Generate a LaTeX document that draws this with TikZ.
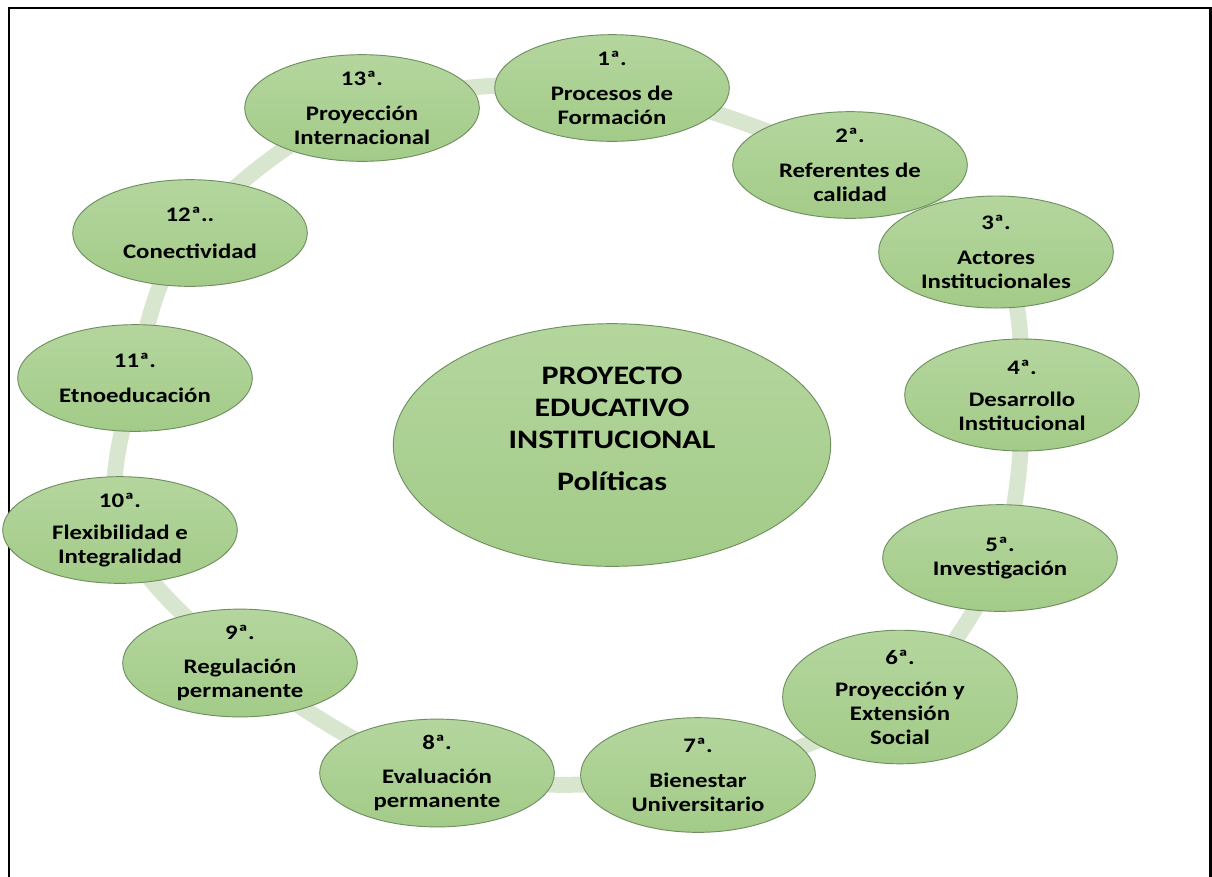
\documentclass[tikz,border=0pt]{standalone}
\usepackage{fontspec}
\setmainfont{Carlito}[FakeStretch=1.2]
\usetikzlibrary{shapes.geometric}
\pgfdeclarelayer{bg}
\pgfsetlayers{bg,main}
\definecolor{gtop}{HTML}{B4D69E}
\definecolor{gbot}{HTML}{A3CB88}
\definecolor{gedge}{HTML}{6F8F60}
\definecolor{ringc}{HTML}{D8E6CF}
\begin{document}
\begin{tikzpicture}[x=0.75pt,y=-0.75pt,
  pol/.style={ellipse, draw=gedge, line width=0.7pt, top color=gtop, bottom color=gbot,
    minimum width=176pt, minimum height=80pt, inner sep=0pt, align=center,
    font=\bfseries\fontsize{15.5}{18}\selectfont},
  big/.style={pol, minimum width=328pt, minimum height=182pt},
  bigtext/.style={inner sep=0pt, align=center, font=\bfseries\fontsize{20}{24}\selectfont},
  ring/.style={draw=ringc, line width=12pt},
  frame/.style={draw=black, line width=1.6pt}]
\useasboundingbox (0,0) rectangle (1212,876);
\draw[frame] (9,880) -- (9,8) -- (1210.5,8) -- (1210.5,880);
\node[pol] (n1) at (612,88) {1ª.\\[8pt]Procesos de\\Formación};
\node[pol] (n2) at (850,165) {2ª.\\[8pt]Referentes de\\calidad};
\node[pol, minimum height=84pt] (n3) at (996,252) {3ª.\\[8pt]Actores\\Institucionales};
\node[pol, minimum height=84pt] (n4) at (1022,395) {4ª.\\[6pt]Desarrollo\\Institucional};
\node[pol] (n5) at (1000,558) {5ª.\\Investigación};
\node[pol, minimum height=90pt] (n6) at (900,697) {6ª.\\[6pt]Proyección y\\Extensión\\Social};
\node[pol, minimum height=86pt] (n7) at (698,775) {7ª.\\[8pt]Bienestar\\Universitario};
\node[pol] (n8) at (437,773) {8ª.\\[8pt]Evaluación\\permanente};
\node[pol] (n9) at (240,663) {9ª.\\[8pt]Regulación\\permanente};
\node[pol] (n10) at (120,530) {10ª.\\[6pt]Flexibilidad e\\Integralidad};
\node[pol] (n11) at (135,378) {11ª.\\[8pt]Etnoeducación};
\node[pol] (n12) at (190,233) {12ª..\\[10pt]Conectividad};
\node[pol] (n13) at (362,108) {13ª.\\[8pt]Proyección\\Internacional};
\node[big] (c) at (612,445) {};
\node[bigtext] (ct) at ([yshift=12pt]c.center) {PROYECTO\\EDUCATIVO\\INSTITUCIONAL\\[8pt]Políticas};
\begin{pgfonlayer}{bg}
\draw[ring] plot[smooth cycle, tension=0.55] coordinates {(n1.center) (n2.center) (n3.center) (n4.center) (n5.center) (n6.center) (n7.center) (n8.center) (n9.center) (n10.center) (n11.center) (n12.center) (n13.center)};
\end{pgfonlayer}
\end{tikzpicture}
\end{document}
